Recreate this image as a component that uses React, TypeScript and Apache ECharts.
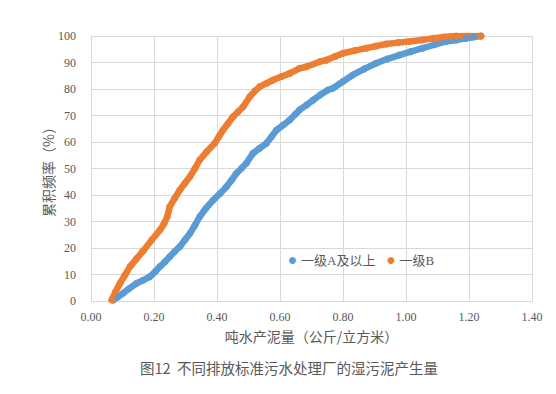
import React, { useEffect, useRef } from "react";
import * as echarts from "echarts";

const seriesNames = ["一级A及以上", "一级B"];

// 一级A及以上 : [吨水产泥量, 累积频率%]
const seriesA: [number, number][] = [
  [0.071, 0.4], [0.085, 1.5], [0.102, 2.9], [0.12, 4.6], [0.145, 6.7], [0.165, 7.8],
  [0.187, 9.2], [0.205, 11.2], [0.219, 13], [0.235, 14.8], [0.25, 16.7], [0.265, 18.6],
  [0.282, 20.5], [0.298, 23], [0.314, 25.5], [0.33, 28.6], [0.345, 31.8], [0.365, 35],
  [0.388, 38.1], [0.41, 40.6], [0.43, 43.1], [0.446, 45.6], [0.462, 48.2], [0.478, 50.1],
  [0.493, 52.0], [0.514, 55.7], [0.535, 57.6], [0.557, 59.5], [0.573, 62], [0.589, 64.5],
  [0.61, 66.4], [0.631, 68.3], [0.648, 70.4], [0.662, 72.1], [0.685, 74], [0.705, 75.8],
  [0.728, 77.8], [0.752, 79.6], [0.768, 80.3], [0.8, 82.8], [0.831, 85.3], [0.868, 87.6],
  [0.905, 89.7], [0.94, 91.3], [0.979, 92.8], [1.015, 94.1], [1.053, 95.4], [1.09, 96.7],
  [1.127, 97.9], [1.16, 98.5], [1.19, 99.1], [1.215, 99.6], [1.238, 100],
];

// 一级B
const seriesB: [number, number][] = [
  [0.066, 0.4], [0.078, 3.5], [0.092, 6.7], [0.108, 9.8], [0.124, 13], [0.145, 16],
  [0.166, 19], [0.192, 22.9], [0.219, 26.8], [0.232, 29.2], [0.242, 31.8], [0.25, 35.6],
  [0.266, 38.8], [0.282, 41.9], [0.298, 44.4], [0.314, 46.9], [0.33, 50], [0.345, 53.2],
  [0.367, 56.3], [0.393, 59.5], [0.406, 62], [0.419, 64.5], [0.435, 67], [0.451, 69.5],
  [0.467, 71.4], [0.483, 73.3], [0.504, 77.1], [0.52, 79.2], [0.536, 80.9], [0.558, 82.2],
  [0.578, 83.4], [0.605, 84.7], [0.631, 85.9], [0.662, 87.8], [0.684, 88.4], [0.726, 90.3],
  [0.747, 90.9], [0.775, 92.3], [0.8, 93.5], [0.837, 94.5], [0.874, 95.4], [0.905, 96.2],
  [0.937, 97.0], [0.975, 97.5], [1.011, 97.9], [1.05, 98.5], [1.085, 99.1], [1.12, 99.6],
  [1.159, 100], [1.2, 100.2], [1.238, 100],
];

const colors = ["#5B9BD5", "#ED7D31"];
const textColor = "#595959";
const latin = "'Liberation Serif', 'Noto Sans CJK SC', serif";
const cjk = "'Noto Sans CJK SC', sans-serif";

export default function App() {
  const ref = useRef<HTMLDivElement>(null);
  useEffect(() => {
    if (!ref.current) return;
    const chart = echarts.init(ref.current, null, { renderer: "svg" });
    const mk = (name: string, data: [number, number][], color: string) => ({
      name,
      type: "line",
      data,
      symbol: "circle",
      symbolSize: 7,
      showSymbol: true,
      itemStyle: { color },
      lineStyle: { color, width: 6.5, cap: "round", join: "round" },
      z: 3,
    });
    chart.setOption({
      animation: false,
      backgroundColor: "#ffffff",
      textStyle: { fontFamily: latin, color: textColor },
      grid: { left: 91, right: 24, top: 36, bottom: 93, containLabel: false },
      legend: {
        data: seriesNames.map((n) => ({ name: n, icon: "circle" })),
        left: 284,
        top: 249,
        itemWidth: 7,
        itemHeight: 7,
        itemGap: 12,
        textStyle: { fontFamily: latin, fontSize: 13, color: textColor },
      },
      xAxis: {
        type: "value",
        min: 0,
        max: 1.4,
        interval: 0.2,
        name: "吨水产泥量（公斤/立方米）",
        nameLocation: "middle",
        nameGap: 27,
        nameMoveOverlap: false,
        nameTextStyle: { fontFamily: cjk, fontSize: 14, color: textColor, lineHeight: 15 },
        axisLine: { show: true, lineStyle: { color: "#d9d9d9" } },
        axisTick: { show: false },
        axisLabel: {
          color: textColor,
          fontSize: 12,
          fontFamily: latin,
          margin: 9,
          lineHeight: 13,
          formatter: (v: number) => v.toFixed(2),
        },
        splitLine: { show: true, lineStyle: { color: "#d9d9d9" } },
      },
      yAxis: {
        type: "value",
        min: 0,
        max: 100,
        interval: 10,
        name: "累积频率（%）",
        nameLocation: "middle",
        nameGap: 36,
        nameMoveOverlap: false,
        nameRotate: 90,
        nameTextStyle: { fontFamily: cjk, fontSize: 14, color: textColor, fontWeight: "normal" },
        axisLine: { show: true, lineStyle: { color: "#d9d9d9" } },
        axisTick: { show: false },
        axisLabel: { color: textColor, fontSize: 12, fontFamily: latin, margin: 15 },
        splitLine: { show: true, lineStyle: { color: "#d9d9d9" } },
      },
      graphic: [
        {
          type: "text",
          x: 289,
          y: 367,
          style: {
            text: "图12  不同排放标准污水处理厂的湿污泥产生量",
            fontFamily: cjk,
            fontSize: 14.5,
            fill: textColor,
            align: "center",
            verticalAlign: "middle",
          },
        },
      ],
      series: [mk(seriesNames[0], seriesA, colors[0]), mk(seriesNames[1], seriesB, colors[1])],
    });
    return () => chart.dispose();
  }, []);
  return (
    <div
      ref={ref}
      style={{ position: "absolute", left: 0, top: 0, width: 556, height: 394, background: "#fff" }}
    />
  );
}
